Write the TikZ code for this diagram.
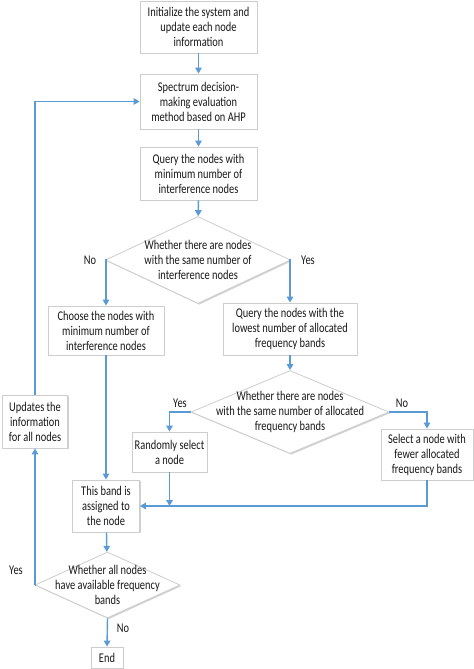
\documentclass[tikz,border=0pt]{standalone}
\usepackage{fontspec}
\setmainfont{Carlito}[FakeStretch=0.78]
\usetikzlibrary{shapes.geometric,arrows.meta,shadows}
\definecolor{flow}{RGB}{91,155,213}
\definecolor{edge}{RGB}{205,205,205}
\tikzset{
  box/.style={draw=edge, line width=0.8bp, fill=white, inner sep=0pt, align=center,
    font=\fontsize{13.4}{15}\selectfont, text=black!90,
    drop shadow={shadow xshift=1.2bp, shadow yshift=-1.2bp, opacity=0.18, fill=black}},
  dia/.style={draw=edge, line width=0.8bp, fill=white, shape=diamond, inner sep=0pt,
    drop shadow={shadow xshift=1.2bp, shadow yshift=-1.2bp, opacity=0.18, fill=black}},
  dtxt/.style={align=center, inner sep=0pt, font=\fontsize{13.4}{15}\selectfont, text=black!90},
  lbl/.style={font=\fontsize{13.4}{14}\selectfont, text=black!90, inner sep=0pt},
  arr/.style={draw=flow, line width=1.4bp, -{Triangle[width=6.5bp,length=6bp]}},
  ln/.style={draw=flow, line width=1.4bp}
}
\begin{document}
\begin{tikzpicture}[x=1bp,y=-1bp]
\useasboundingbox (0,0) rectangle (474,669);
\node[box, minimum width=117bp, minimum height=52bp] (b1) at (198.5,27) {Initialize the system and\\update each node\\information};
\node[box, minimum width=117bp, minimum height=55bp] (b2) at (198.5,101.5) {Spectrum decision-\\making evaluation\\method based on AHP};
\node[box, minimum width=117bp, minimum height=53bp] (b3) at (198.5,173.5) {Query the nodes with\\minimum number of\\interference nodes};
\node[dia, minimum width=185bp, minimum height=87bp] (d1) at (198,260) {};
\node[dtxt] (d1t) at (198,260) {Whether there are nodes\\with the same number of\\interference nodes};
\node[box, minimum width=116bp, minimum height=49bp] (b4) at (106,330.5) {Choose the nodes with\\minimum number of\\interference nodes};
\node[box, minimum width=134bp, minimum height=52bp] (b5) at (290,329) {Query the nodes with the\\lowest number of allocated\\frequency bands};
\node[dia, minimum width=198bp, minimum height=83bp] (d2) at (290,412) {};
\node[dtxt] (d2t) at (290,412) {Whether there are nodes\\with the same number of allocated\\frequency bands};
\node[box, minimum width=75bp, minimum height=40bp] (b6) at (169.5,452) {Randomly select\\a node};
\node[box, minimum width=92bp, minimum height=51bp] (b7) at (427,454.5) {Select a node with\\fewer allocated\\frequency bands};
\node[box, minimum width=67bp, minimum height=52bp] (b8) at (106,506) {This band is\\assigned to\\the node};
\node[box, minimum width=65bp, minimum height=53bp] (b9) at (35,421.5) {Updates the\\information\\for all nodes};
\node[dia, minimum width=145bp, minimum height=66bp] (d3) at (107.5,585) {};
\node[dtxt] (d3t) at (107.5,585) {Whether all nodes\\have available frequency\\bands};
\node[box, minimum width=32bp, minimum height=21bp] (e) at (107,657.5) {End};

\node[lbl] (l1) at (90,260) {No};
\node[lbl] (l2) at (308,260) {Yes};
\node[lbl] (l3) at (180,403) {Yes};
\node[lbl] (l4) at (402,403) {No};
\node[lbl] (l5) at (16,570) {Yes};
\node[lbl] (l6) at (123,628) {No};

\draw[arr] (b1) -- (b2);
\draw[arr] (b2) -- (b3);
\draw[arr] (b3) -- (d1);
\draw[arr] (d1.west) -| (b4.north);
\draw[arr] (d1.east) -| (b5.north);
\draw[arr] (b5) -- (d2);
\draw[arr] (d2.west) -| (b6.north);
\draw[arr] (d2.east) -| (b7.north);
\draw[arr] (b4.south) -- (b8.north);
\draw[arr] (b7.south) |- (b8.east);
\draw[arr] (b6.south) -- (b6.south |- b8.east);
\draw[arr] (b8) -- (d3);
\draw[arr] (d3.west) -| (b9.south);
\draw[arr] (b9.north) |- (b2.west);
\draw[arr] (d3.south) -- (e.north);
\end{tikzpicture}
\end{document}
